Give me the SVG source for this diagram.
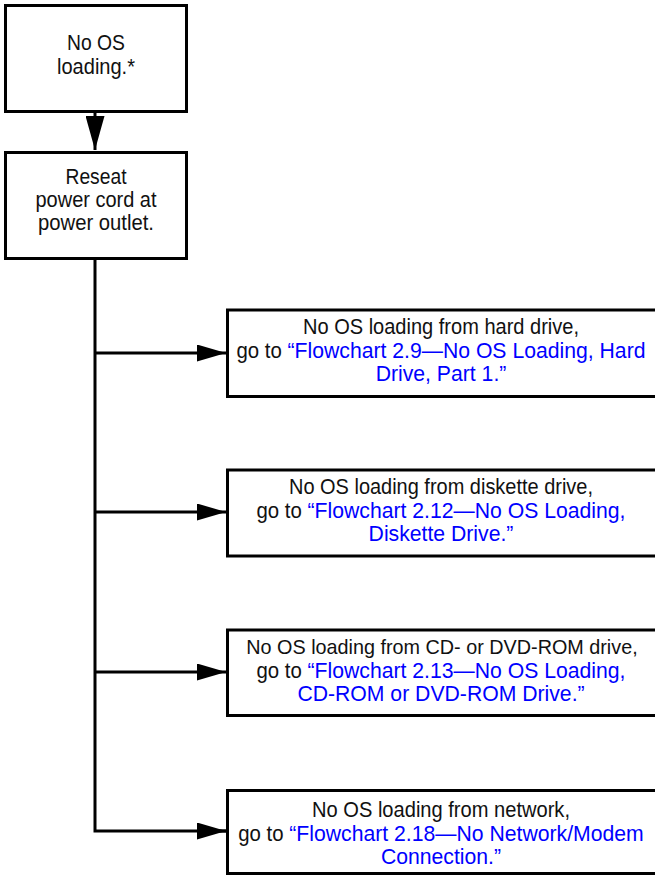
<svg xmlns="http://www.w3.org/2000/svg" width="655" height="875" viewBox="0 0 655 875">
<style>
.box{fill:#fff;stroke:#000;stroke-width:3}
.t{font-family:"Liberation Sans",Arial,sans-serif;font-size:22px;fill:#111;text-anchor:middle}
.b{fill:#0000ff;font-size:21.2px}
.c{fill:none;stroke:#000;stroke-width:3}
</style>
<defs>
<marker id="ah" markerUnits="userSpaceOnUse" markerWidth="29" markerHeight="17" refX="29" refY="8.5" orient="auto"><path d="M0,0 L29,8.5 L0,17 z" fill="#000"/></marker>
<marker id="ahv" markerUnits="userSpaceOnUse" markerWidth="34" markerHeight="19" refX="34" refY="9.5" orient="auto"><path d="M0,0 L34,9.5 L0,19 z" fill="#000"/></marker>
</defs>
<rect width="655" height="875" fill="#fff"/>
<g id="connectors">
<path class="c" d="M95,113 V150" marker-end="url(#ahv)"/>
<path class="c" d="M95,260 V831 H226"/>
<path class="c" d="M95,353 H226" marker-end="url(#ah)"/>
<path class="c" d="M95,512 H226" marker-end="url(#ah)"/>
<path class="c" d="M95,672 H226" marker-end="url(#ah)"/>
<path class="c" d="M200,831 H226" marker-end="url(#ah)"/>
</g>
<g id="n1">
<rect class="box" x="5.5" y="5.5" width="181" height="106"/>
<text class="t" x="96" y="50" textLength="58" lengthAdjust="spacingAndGlyphs">No OS</text>
<text class="t" x="96" y="74" textLength="78" lengthAdjust="spacingAndGlyphs">loading.*</text>
</g>
<g id="n2">
<rect class="box" x="5.5" y="152.5" width="181" height="106"/>
<text class="t" x="96" y="184" textLength="61" lengthAdjust="spacingAndGlyphs">Reseat</text>
<text class="t" x="96" y="207" textLength="121" lengthAdjust="spacingAndGlyphs">power cord at</text>
<text class="t" x="96" y="230" textLength="116" lengthAdjust="spacingAndGlyphs">power outlet.</text>
</g>
<g id="n3">
<rect class="box" x="227.5" y="310" width="440" height="86.5"/>
<text class="t" x="441" y="334" textLength="276" lengthAdjust="spacingAndGlyphs">No OS loading from hard drive,</text>
<text class="t" x="441" y="357.5"><tspan textLength="51" lengthAdjust="spacingAndGlyphs">go to </tspan><tspan class="b">“Flowchart 2.9—No OS Loading, Hard</tspan></text>
<text class="t" x="441" y="381"><tspan class="b">Drive, Part 1.”</tspan></text>
</g>
<g id="n4">
<rect class="box" x="227.5" y="470" width="440" height="86"/>
<text class="t" x="441" y="494" textLength="304" lengthAdjust="spacingAndGlyphs">No OS loading from diskette drive,</text>
<text class="t" x="441" y="517.5"><tspan textLength="51" lengthAdjust="spacingAndGlyphs">go to </tspan><tspan class="b">“Flowchart 2.12—No OS Loading,</tspan></text>
<text class="t" x="441" y="541"><tspan class="b">Diskette Drive.”</tspan></text>
</g>
<g id="n5">
<rect class="box" x="227.5" y="630" width="440" height="85.5"/>
<text class="t" x="442" y="654" style="font-size:19.8px">No OS loading from CD- or DVD-ROM drive,</text>
<text class="t" x="441" y="677.5"><tspan textLength="51" lengthAdjust="spacingAndGlyphs">go to </tspan><tspan class="b">“Flowchart 2.13—No OS Loading,</tspan></text>
<text class="t" x="441" y="701"><tspan class="b">CD-ROM or DVD-ROM Drive.”</tspan></text>
</g>
<g id="n6">
<rect class="box" x="227.5" y="790.5" width="440" height="83"/>
<text class="t" x="441" y="816.5" textLength="258" lengthAdjust="spacingAndGlyphs">No OS loading from network,</text>
<text class="t" x="441" y="840.5"><tspan textLength="51" lengthAdjust="spacingAndGlyphs">go to </tspan><tspan class="b">“Flowchart 2.18—No Network/Modem</tspan></text>
<text class="t" x="441" y="864"><tspan class="b">Connection.”</tspan></text>
</g>
</svg>
